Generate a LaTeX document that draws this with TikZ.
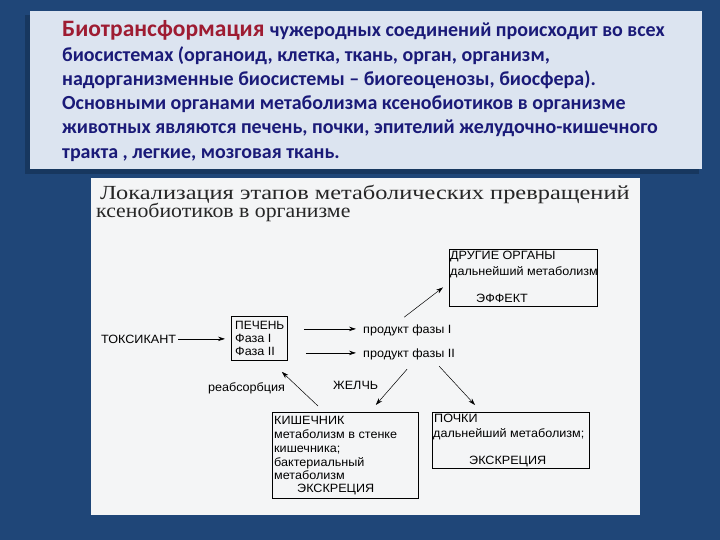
\documentclass[tikz,border=0pt]{standalone}
\usepackage{fontspec}
\setmainfont{Liberation Sans}
\newfontfamily\topfont{Carlito}
\newfontfamily\titlefont{Liberation Serif}
\usetikzlibrary{calc,arrows.meta}
\definecolor{bg}{HTML}{1F4678}
\definecolor{bgshadow}{HTML}{17375F}
\definecolor{topbox}{HTML}{DCE4F0}
\definecolor{navy}{HTML}{1A1A78}
\definecolor{darkred}{HTML}{9E1C32}
\definecolor{panel}{HTML}{F4F5F6}
\definecolor{titlegray}{HTML}{262626}
\begin{document}
\begin{tikzpicture}[x=1pt,y=-1pt,
  topline/.style={anchor=base west, inner sep=0pt, text=navy, font=\topfont\bfseries\fontsize{20}{22}\selectfont},
  titleline/.style={anchor=base west, inner sep=0pt, text=titlegray, font=\titlefont\fontsize{20}{22}\selectfont},
  lbl/.style={anchor=base west, inner sep=0pt, xscale=1.05, font=\fontsize{12}{13}\selectfont},
  box/.style={draw=black, line width=0.8pt, inner sep=0pt, anchor=north west},
  arr/.style={-{Stealth[length=7pt,width=4.5pt]}, line width=0.7pt}]
\useasboundingbox (0,0) rectangle (720,540);
\fill[bg] (0,0) rectangle (720,540);
% top text box
\fill[bgshadow] (25,15) rectangle (699,174);
\fill[topbox] (30,11) rectangle (702,169);
\node[topline, text=darkred, font=\topfont\bfseries\fontsize{23.5}{25}\selectfont] (t1a) at (62,36.7) {Биотрансформация};
\node[topline] (t1b) at ($(t1a.base east)+(5,0)$) {чужеродных соединений происходит во всех};
\node[topline] (t2) at (62,61.5) {биосистемах (органоид, клетка, ткань, орган, организм,};
\node[topline] (t3) at (62,86) {надорганизменные биосистемы – биогеоценозы, биосфера).};
\node[topline] (t4) at (62,110) {Основными органами метаболизма ксенобиотиков в организме};
\node[topline] (t5) at (62,134) {животных являются печень, почки, эпителий желудочно-кишечного};
\node[topline] (t6) at (62,159) {тракта , легкие, мозговая ткань.};
% white panel
\fill[panel] (91,178) rectangle (640,515);
\node[titleline, xscale=1.22] (h1) at (100,200) {Локализация этапов метаболических превращений};
\node[titleline, xscale=1.09] (h2) at (96,218) {ксенобиотиков в организме};
% diagram boxes
\node[box, minimum width=56, minimum height=44] (liver) at (231,316) {};
\node[box, minimum width=148, minimum height=57] (other) at (449,249) {};
\node[box, minimum width=146, minimum height=86] (gut) at (272,412) {};
\node[box, minimum width=157, minimum height=56] (kidney) at (432,412) {};
% labels
\node[lbl] (tox) at (101,343) {ТОКСИКАНТ};
\node[lbl, xscale=0.95] (lv1) at (235,329) {ПЕЧЕНЬ};
\node[lbl] (lv2) at (235,342) {Фаза I};
\node[lbl] (lv3) at (235,355) {Фаза II};
\node[lbl] (p1) at (363,333) {продукт фазы I};
\node[lbl] (p2) at (363,357) {продукт фазы II};
\node[lbl] (o1) at (450,259) {ДРУГИЕ ОРГАНЫ};
\node[lbl] (o2) at (450,275) {дальнейший метаболизм};
\node[lbl] (o3) at (476,302) {ЭФФЕКТ};
\node[lbl] (bile) at (333,389) {ЖЕЛЧЬ};
\node[lbl] (reab) at (208,391) {реабсорбция};
\node[lbl] (g1) at (274,424) {КИШЕЧНИК};
\node[lbl] (g2) at (274,438) {метаболизм в стенке};
\node[lbl] (g3) at (274,452) {кишечника;};
\node[lbl] (g4) at (274,466) {бактериальный};
\node[lbl] (g5) at (274,479) {метаболизм};
\node[lbl] (g6) at (297,492) {ЭКСКРЕЦИЯ};
\node[lbl] (k1) at (434,422) {ПОЧКИ};
\node[lbl] (k2) at (433,437) {дальнейший метаболизм;};
\node[lbl] (k3) at (469,464) {ЭКСКРЕЦИЯ};
% connectors
\draw[arr, shorten <=2pt, shorten >=6pt] (tox.east) -- (tox.east -| liver.west);
\draw[arr] ($(liver.east |- p1)+(16,-1)$) -- ($(p1.west)+(-7,-1)$);
\draw[arr] ($(liver.east |- p2)+(18,-1)$) -- ($(p2.west)+(-7,-1)$);
\draw[arr, line width=0.5pt] ($(p1.north)+(-3,-7)$) -- ($(other.west)+(-6,9.5)$);
\draw[arr, line width=0.5pt] ($(p2.south)+(-2,9.5)$) -- ($(gut.north east)+(-43,-7)$);
\draw[arr, line width=0.5pt] ($(p2.south east)+(-16,6.5)$) -- ($(kidney.north west)+(43,-7)$);
\draw[arr, line width=0.5pt] ($(gut.north west)+(46,-6)$) -- ($(liver.south east)+(-6,11)$);
\end{tikzpicture}
\end{document}
